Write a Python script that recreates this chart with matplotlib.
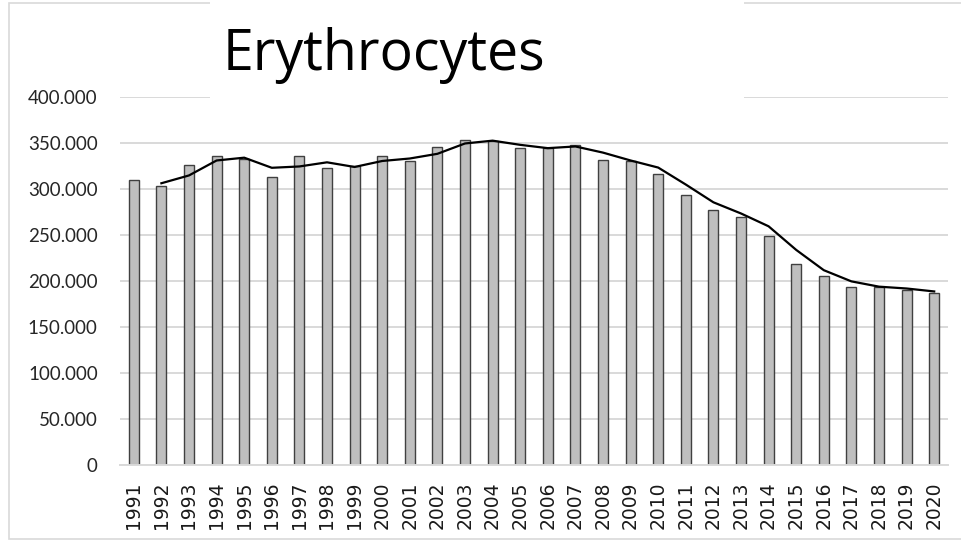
import matplotlib
matplotlib.use("Agg")
import matplotlib.pyplot as plt
from matplotlib.patches import Rectangle
from matplotlib.ticker import FuncFormatter
import numpy as np

years = [str(y) for y in range(1991, 2021)]
values = [309.5, 303.0, 326.5, 335.5, 332.6, 313.5, 335.5, 322.5, 325.4, 335.5,
          330.8, 345.7, 353.3, 351.8, 344.2, 344.6, 347.9, 331.2, 330.8, 315.8,
          293.9, 277.2, 269.6, 249.3, 218.3, 205.2, 194.0, 193.7, 190.0, 187.3]
values = [v * 1000 for v in values]
title = "Erythrocytes"
yticks = [0, 50000, 100000, 150000, 200000, 250000, 300000, 350000, 400000]

W, H = 962, 541
fig = plt.figure(figsize=(W / 100, H / 100), dpi=100)
fig.patch.set_facecolor("white")

def px(x0, y0, x1, y1):
    return [x0 / W, 1 - y1 / H, (x1 - x0) / W, (y1 - y0) / H]

ax = fig.add_axes(px(120, 97, 948, 465))
x = np.arange(len(years))
ax.bar(x, values, width=0.36, color="#bfbfbf", edgecolor="#404040", linewidth=1.0, zorder=2)

# 2-period moving average trendline
ma = [(values[i - 1] + values[i]) / 2 for i in range(1, len(values))]
ax.plot(x[1:], ma, color="black", linewidth=1.6, zorder=3, solid_joinstyle="round")

ax.set_xlim(-0.5, len(years) - 0.5)
ax.set_ylim(0, 400000)
ax.set_yticks(yticks)
ax.yaxis.set_major_formatter(FuncFormatter(lambda v, p: "0" if v == 0 else f"{int(v):,}".replace(",", ".")))
ax.grid(axis="y", color="#d9d9d9", linewidth=1.4, zorder=0)
ax.set_axisbelow(True)
for s in ["top", "right", "left"]:
    ax.spines[s].set_visible(False)
ax.spines["bottom"].set_color("#d9d9d9")
ax.spines["bottom"].set_linewidth(1.4)
ax.tick_params(axis="both", length=0)
ax.tick_params(axis="y", pad=16)
ax.tick_params(axis="x", pad=12)
ax.set_xticks(x)
ax.set_xticklabels(years, rotation=90)
for lab in ax.get_xticklabels():
    lab.set_fontfamily("DejaVu Sans")
    lab.set_fontsize(13.5)
    lab.set_color("#1a1a1a")
for lab in ax.get_yticklabels():
    lab.set_fontfamily("Lato")
    lab.set_fontsize(13.5)
    lab.set_color("#262626")

# outer border
fig.patches.append(Rectangle((9 / W, 1 - 539 / H), (962 - 9) / W, (539 - 3) / H,
                             transform=fig.transFigure, fill=False,
                             edgecolor="#d9d9d9", linewidth=1.2, zorder=0))
# title box
fig.patches.append(Rectangle((210 / W, 1 - 98 / H), (744 - 210) / W, 98 / H,
                             transform=fig.transFigure, facecolor="white",
                             edgecolor="none", zorder=5))
fig.text(384 / W, 1 - 70 / H, title, fontsize=40, family="Open Sans", color="black",
         ha="center", va="baseline", zorder=6)

fig.savefig("out.png", dpi=100)
